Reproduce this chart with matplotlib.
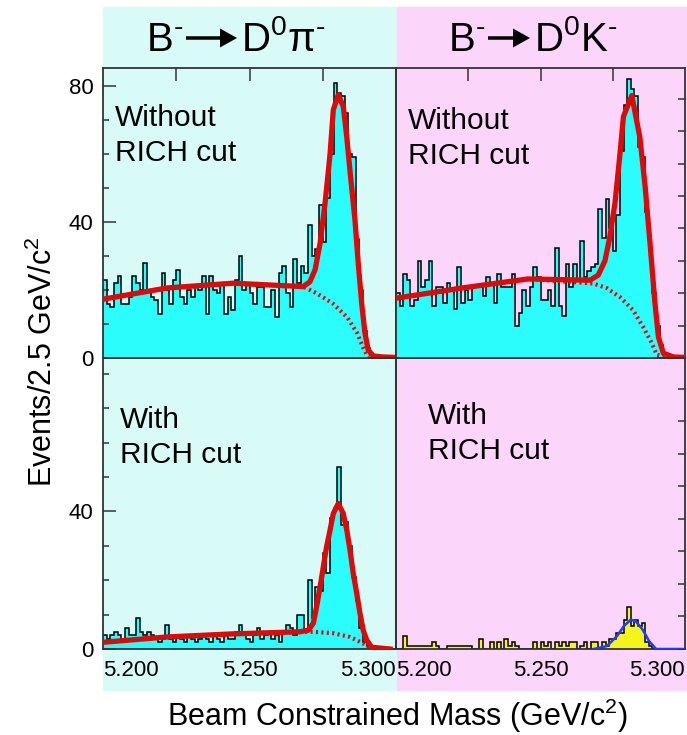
import numpy as np
import matplotlib.pyplot as plt
from matplotlib.patches import Rectangle, FancyArrow
from matplotlib.ticker import MultipleLocator, FixedLocator

plt.rcParams['font.family'] = ['Liberation Sans', 'DejaVu Sans']
plt.rcParams['mathtext.fontset'] = 'custom'
plt.rcParams['mathtext.rm'] = 'Liberation Sans'
plt.rcParams['mathtext.it'] = 'Liberation Sans:italic'
plt.rcParams['mathtext.bf'] = 'Liberation Sans:bold'

# binning: 80 bins over the beam constrained mass window
m_lo, m_hi, n_bins = 5.200, 5.300, 80
edges = np.linspace(m_lo, m_hi, n_bins + 1)

# B- -> D0 pi-, without RICH cut
tl_counts = [23, 16, 15, 22, 24, 16, 16, 18, 24, 22, 20, 28, 20, 18, 17, 13, 25, 20, 16, 23,
             26, 18, 16, 20, 18, 21, 20, 24, 13, 24, 20, 19, 22, 13, 18, 14, 23, 30, 20, 22,
             19, 16, 21, 21, 15, 15, 20, 12, 25, 27, 19, 15, 29, 22, 27, 25, 39, 30, 32, 45,
             34, 47, 60, 81, 78, 77, 72, 60, 59, 35, 20, 8, 3, 1, 0, 0, 0, 0, 0, 0]
tl_fit_m = [5.2007, 5.2218, 5.2444, 5.2683, 5.2706, 5.2724, 5.2741, 5.2758, 5.2775, 5.2786, 5.2803,
            5.2820, 5.2832, 5.2843, 5.2860, 5.2871, 5.2883, 5.2894, 5.2905, 5.2922, 5.2956, 5.2990]
tl_fit_v = [17.4, 20.6, 22.0, 21.0, 22.4, 26.0, 33.8, 45.6, 60.0, 73.0, 77.4,
            74.0, 65.0, 55.0, 40.6, 28.0, 16.0, 7.4, 2.4, 0.6, 0.3, 0.2]
tl_bkg_m = [5.2007, 5.2218, 5.2444, 5.2683, 5.2730, 5.2785, 5.2833, 5.2867, 5.2887, 5.2904, 5.2930, 5.2960]
tl_bkg_v = [17.4, 20.6, 22.0, 21.0, 19.0, 16.0, 12.0, 7.4, 3.2, 0.3, 0.2, 0.2]

# B- -> D0 K-, without RICH cut
tr_counts = [20, 16, 26, 24, 16, 18, 30, 22, 24, 30, 16, 22, 22, 17, 23, 21, 15, 28, 17, 21,
             18, 22, 22, 22, 19, 25, 23, 17, 26, 22, 22, 22, 26, 10, 14, 21, 16, 22, 28, 25,
             18, 18, 21, 16, 34, 16, 13, 29, 22, 29, 24, 36, 25, 27, 28, 29, 46, 37, 49, 40,
             33, 44, 64, 78, 86, 83, 81, 65, 62, 45, 33, 20, 10, 4, 1, 0, 0, 0, 0, 0]
tr_fit_m = [5.2003, 5.2228, 5.2457, 5.2671, 5.2700, 5.2723, 5.2740, 5.2758, 5.2775, 5.2787,
            5.2816, 5.2844, 5.2862, 5.2879, 5.2896, 5.2908, 5.2925, 5.2960, 5.2995]
tr_fit_v = [18.5, 21.6, 24.4, 24.0, 25.6, 30.0, 37.4, 48.0, 63.0, 74.5,
            81.0, 68.0, 53.0, 35.4, 17.0, 6.5, 1.5, 0.3, 0.2]
tr_bkg_m = [5.2003, 5.2228, 5.2457, 5.2682, 5.2729, 5.2775, 5.2820, 5.2855, 5.2885, 5.2902, 5.2937, 5.2970]
tr_bkg_v = [18.5, 21.6, 24.4, 23.0, 21.6, 18.8, 14.8, 9.6, 4.6, 1.0, 0.3, 0.3]

# B- -> D0 pi-, with RICH cut
bl_counts = [4, 3, 4, 5, 4, 2, 6, 4, 4, 9, 5, 4, 5, 4, 3, 2, 3, 7, 3, 2,
             4, 3, 2, 4, 3, 2, 3, 4, 3, 2, 4, 3, 2, 4, 3, 3, 5, 7, 4, 3,
             2, 4, 6, 3, 4, 5, 3, 4, 2, 5, 7, 6, 4, 10, 10, 5, 20, 9, 18, 17,
             28, 22, 38, 41, 53, 36, 37, 30, 21, 14, 6, 2, 1, 0, 0, 0, 0, 0, 0, 0]
bl_fit_m = [5.2007, 5.2218, 5.2444, 5.2672, 5.2701, 5.2718, 5.2729, 5.2741, 5.2752, 5.2763, 5.2775,
            5.2786, 5.2803, 5.2820, 5.2832, 5.2843, 5.2854, 5.2866, 5.2877, 5.2888, 5.2900, 5.2917, 5.2980]
bl_fit_v = [2.0, 3.5, 4.4, 5.0, 5.5, 7.5, 12.3, 18.1, 23.9, 29.7, 34.6,
            39.4, 42.3, 39.4, 34.6, 28.8, 22.0, 16.2, 10.4, 5.5, 2.6, 0.5, 0.0]
bl_bkg_m = [5.2007, 5.2218, 5.2444, 5.2672, 5.2718, 5.2785, 5.2843, 5.2887, 5.2911, 5.2950]
bl_bkg_v = [2.0, 3.5, 4.4, 5.0, 5.0, 4.6, 3.5, 1.7, 0.3, 0.2]

# B- -> D0 K-, with RICH cut
br_counts = [0, 0, 4, 1, 1, 1, 1, 1, 1, 1, 2, 1, 0, 0, 1, 1, 1, 1, 1, 1,
             1, 0, 0, 3, 0, 0, 2, 0, 2, 0, 3, 1, 2, 1, 0, 0, 0, 0, 2, 0,
             2, 1, 2, 0, 2, 1, 2, 1, 2, 2, 0, 1, 2, 0, 2, 2, 0, 2, 1, 3,
             3, 5, 5, 9, 13, 7, 9, 7, 8, 2, 1, 0, 0, 0, 0, 0, 0, 0, 0, 0]
br_fit_m = [5.2684, 5.2730, 5.2765, 5.2789, 5.2812, 5.2829, 5.2853, 5.2876, 5.2900, 5.3000]
br_fit_v = [0.0, 0.9, 4.0, 7.1, 9.0, 8.6, 6.0, 2.4, 0.0, 0.0]

tick_vals = [5.200, 5.250, 5.300]
tick_text = ['5.200', '5.250', '5.300']
# decay titles: parent on the left of the arrow, products on the right
title_parent = ['$\\mathregular{B^{\u2010}}$', '$\\mathregular{B^{\u2010}}$']
title_products = ['$\\mathregular{D^{0}\\pi^{\u2010}}$', '$\\mathregular{D^{0}K^{\u2010}}$']

cyan_bg = '#d9fbf8'
pink_bg = '#fbd5fa'
cyan_fill = '#2bfdfd'
yellow_fill = '#f5f51c'
red = '#dd0a0a'
blue = '#1e3cff'
frame = '#333333'

W, H = 687, 735
fig = plt.figure(figsize=(W / 100, H / 100), dpi=100)


def box(x0, y0, x1, y1):
    return [x0 / W, 1 - y1 / H, (x1 - x0) / W, (y1 - y0) / H]


# coloured column backgrounds (header + tick-label band)
fig.patches.append(Rectangle((103 / W, 1 - 690 / H), 293 / W, 683 / H,
                             transform=fig.transFigure, color=cyan_bg, zorder=-2))
fig.patches.append(Rectangle((396.5 / W, 1 - 690 / H), 291 / W, 683 / H,
                             transform=fig.transFigure, color=pink_bg, zorder=-2))

ax_tl = fig.add_axes(box(103, 68, 396, 358))
ax_tr = fig.add_axes(box(396, 68, 685, 358))
ax_bl = fig.add_axes(box(103, 358, 396, 649))
ax_br = fig.add_axes(box(396, 358, 685, 649))

panels = [
    (ax_tl, tl_counts, cyan_fill, 85.3, 'Without\nRICH cut', (0.041, 0.875)),
    (ax_tr, tr_counts, cyan_fill, 89.5, 'Without\nRICH cut', (0.042, 0.865)),
    (ax_bl, bl_counts, cyan_fill, 84.6, 'With\nRICH cut', (0.058, 0.835)),
    (ax_br, br_counts, yellow_fill, 89.5, 'With\nRICH cut', (0.111, 0.848)),
]

for ax, counts, fill, ytop, label, pos in panels:
    ax.set_facecolor('none')
    ax.stairs(counts, edges, fill=True, color=fill, lw=0, zorder=1)
    ax.stairs(counts, edges, color='black', lw=1.1, baseline=None, zorder=2)
    ax.set_xlim(m_lo, m_hi)
    ax.set_ylim(0, ytop)
    for s in ax.spines.values():
        s.set_color(frame)
        s.set_linewidth(1.3)
    ax.text(pos[0], pos[1], label, transform=ax.transAxes, ha='left', va='top',
            fontsize=21.5, linespacing=1.3)

for ax, fm, fv, bm, bv in [(ax_tl, tl_fit_m, tl_fit_v, tl_bkg_m, tl_bkg_v),
                           (ax_tr, tr_fit_m, tr_fit_v, tr_bkg_m, tr_bkg_v),
                           (ax_bl, bl_fit_m, bl_fit_v, bl_bkg_m, bl_bkg_v)]:
    ax.plot(bm, bv, color=red, lw=3.0, ls=(0, (0.5, 0.8)), zorder=3)
    ax.plot(fm, fv, color=red, lw=3.8, zorder=4, solid_joinstyle='round')
ax_br.plot(br_fit_m, br_fit_v, color=blue, lw=1.8, zorder=4)

# x ticks: top row has inward ticks on top edge, bottom row only labels
for ax in (ax_tl, ax_tr):
    ax.xaxis.set_ticks_position('top')
    ax.set_xticks([5.225, 5.250, 5.275])
    ax.tick_params(axis='x', direction='in', length=9, width=1.1, color=frame,
                   labeltop=False, labelbottom=False)
for ax in (ax_bl, ax_br):
    ax.set_xticks(tick_vals)
    ax.set_xticklabels(tick_text)
    for lbl, ha in zip(ax.get_xticklabels(), ['left', 'center', 'right']):
        lbl.set_horizontalalignment(ha)
    ax.tick_params(axis='x', length=0, pad=8, labelsize=16)

# y ticks
for ax in (ax_tl, ax_bl):
    ax.yaxis.set_major_locator(MultipleLocator(40))
    ax.yaxis.set_minor_locator(MultipleLocator(10))
    ax.tick_params(axis='y', which='major', direction='in', length=9, width=1.1,
                   color=frame, labelsize=16, pad=7)
    ax.tick_params(axis='y', which='minor', direction='in', length=4, width=1.1, color=frame)
ax_bl.yaxis.set_major_locator(FixedLocator([0, 40]))
for ax in (ax_tr, ax_br):
    ax.yaxis.set_ticks_position('right')
    ax.yaxis.set_major_locator(MultipleLocator(10))
    ax.tick_params(axis='y', direction='in', length=5, width=1.1, color=frame,
                   labelright=False, labelleft=False)

# header titles: text + drawn arrow (pixel positions, top-left origin)
for parent, products, (a0, a1) in zip(title_parent, title_products, [(186, 237), (488, 530)]):
    fig.text((a0 - 3) / W, 1 - 51 / H, parent, ha='right', va='baseline', fontsize=29)
    fig.text((a1 + 4) / W, 1 - 51 / H, products, ha='left', va='baseline', fontsize=29)
    fig.patches.append(FancyArrow(a0 / 100, (H - 38) / 100, (a1 - a0) / 100, 0,
                                  width=0.035, head_width=0.19, head_length=0.17,
                                  length_includes_head=True, color='black', lw=0,
                                  transform=fig.dpi_scale_trans))

fig.text(43 / W, 1 - 362 / H, r'Events/2.5 GeV/c$^{2}$', rotation=90,
         ha='center', va='center', fontsize=22)
fig.text(397 / W, 1 - 716 / H, r'Beam Constrained Mass (GeV/c$^{2}$)',
         ha='center', va='center', fontsize=22)

fig.savefig('out.png', dpi=100)
